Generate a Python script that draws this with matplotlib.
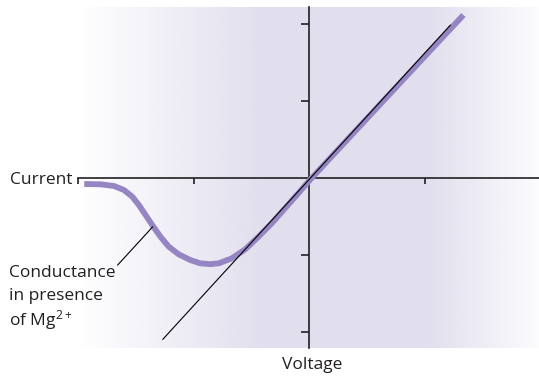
import numpy as np
import matplotlib
matplotlib.use('Agg')
import matplotlib.pyplot as plt
from matplotlib.colors import to_rgb

plt.rcParams['font.family'] = ['Open Sans', 'DejaVu Sans']
plt.rcParams['mathtext.default'] = 'regular'

# ── Data ──────────────────────────────────────────────────────────────────────
# NMDA-type I-V curve with Mg2+ block (voltage, current in tick units)
curve_v = [-1.946, -1.803, -1.688, -1.603, -1.531, -1.474, -1.416, -1.359,
           -1.288, -1.216, -1.130, -1.030, -0.944, -0.858, -0.784, -0.670,
           -0.555, -0.440, -0.326, -0.212, -0.097, 0.003, 0.661, 1.330]
curve_i = [-0.078, -0.082, -0.104, -0.156, -0.243, -0.351, -0.481, -0.610,
           -0.762, -0.892, -0.991, -1.065, -1.108, -1.119, -1.108, -1.043,
           -0.926, -0.762, -0.588, -0.394, -0.199, -0.026, 1.039, 2.117]
# linear (unblocked) reference line
line_v = [-1.27, 1.22]
line_i = [-2.10, 1.99]

x_ticks = [-2, -1, 1]
y_ticks = [-2, -1, 1, 2]

PURPLE = '#9585c3'
LAVENDER = '#e1dfee'
INK = '#231f20'

# ── Figure ────────────────────────────────────────────────────────────────────
W, H = 539, 377
fig = plt.figure(figsize=(W / 100, H / 100), dpi=100)
fig.patch.set_facecolor('white')
ax = fig.add_axes([78 / W, 1 - 348 / H, (539 - 78) / W, (348 - 7) / H])
ax.set_xlim(-1.974, 1.983)
ax.set_ylim(-2.208, 2.221)
ax.set_facecolor('white')

# gradient panel: fades in from the left, fades out to the right
xs = np.linspace(0, 1, 400)
alpha = np.ones_like(xs)
alpha = np.where(xs < 0.40, xs / 0.40, alpha)
alpha = np.where(xs > 0.76, 1 - (xs - 0.76) / 0.24 * 0.9, alpha)
alpha = np.clip(alpha, 0, 1)
rgba = np.zeros((1, len(xs), 4))
rgba[..., :3] = to_rgb(LAVENDER)
rgba[..., 3] = alpha
ax.imshow(rgba, extent=[0, 1, 0, 1], transform=ax.transAxes, aspect='auto',
          zorder=0, interpolation='bilinear')

# axes through the origin
for s in ['top', 'right']:
    ax.spines[s].set_visible(False)
ax.spines['bottom'].set_position(('data', 0))
ax.spines['left'].set_position(('data', 0))
ax.spines['bottom'].set_bounds(-2.0, 1.983)
for s in ['bottom', 'left']:
    ax.spines[s].set_linewidth(1.2)
    ax.spines[s].set_color(INK)
ax.set_xticks(x_ticks)
ax.set_yticks(y_ticks)
ax.set_xticklabels([])
ax.set_yticklabels([])
ax.tick_params(axis='x', direction='out', length=4, width=1.2, color=INK)
ax.tick_params(axis='y', direction='out', length=5.5, width=1.2, color=INK)

ax.plot(line_v, line_i, color='black', lw=0.8, zorder=4, solid_capstyle='butt')
ax.plot(curve_v, curve_i, color=PURPLE, lw=4.2, zorder=3,
        solid_joinstyle='round', solid_capstyle='butt')

# labels
ax.text(-2.045, -0.02, 'Current', ha='right', va='center', fontsize=12.5,
        color=INK, clip_on=False)
ax.text(0.02, -2.43, 'Voltage', ha='center', va='center', fontsize=12.5,
        color=INK, clip_on=False)
for k, s in enumerate(['Conductance', 'in presence', 'of Mg$^{2+}$']):
    ax.text(-2.6, -1.23 - k * 0.305, s, ha='left', va='center', fontsize=12.5,
            color=INK, clip_on=False)
ax.plot([-1.657, -1.356], [-1.13, -0.636], color='black', lw=0.8,
        clip_on=False, zorder=4)

fig.savefig('out.png', dpi=100)
